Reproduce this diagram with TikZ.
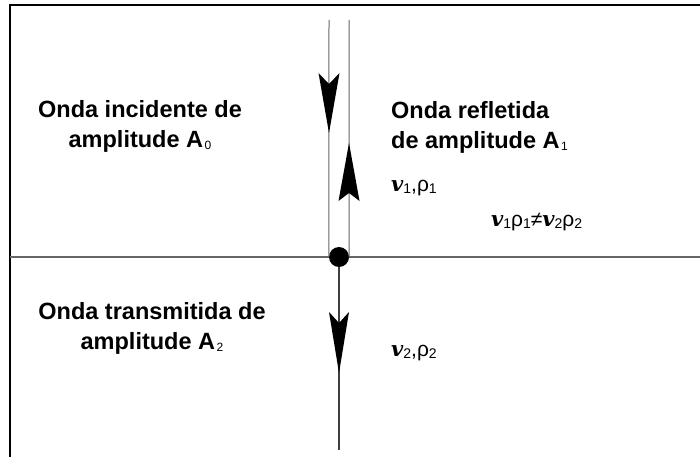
\documentclass[tikz,border=0pt]{standalone}
\usepackage{fontspec}
\setmainfont{Liberation Sans}
\newfontfamily\vfont{DejaVu Serif}
\usetikzlibrary{calc}
\newcommand{\velo}{{\vfont\bfseries\itshape v}}
\newcommand{\sbs}[1]{\kern1.5pt\raisebox{-0.12em}{\fontsize{12}{12}\selectfont\mdseries #1}}
\newcommand{\sbm}[1]{\raisebox{-0.1em}{\fontsize{14}{14}\selectfont\mdseries #1}}
\begin{document}
\begin{tikzpicture}[x=1pt,y=-1pt,
  frame/.style={line width=2pt, black},
  wline/.style={line width=1pt, black!60},
  iface/.style={line width=1.1pt, black!60},
  tline/.style={line width=1.5pt, black!75},
  head/.style={fill=black},
  lbl/.style={font=\fontsize{23.5}{30}\selectfont\bfseries, inner sep=0pt},
  sym/.style={font=\fontsize{21}{24}\selectfont, inner sep=0pt, anchor=west}
]
\useasboundingbox (0,0) rectangle (700,457);
% frame
\coordinate (fTR) at (700,5);
\coordinate (fTL) at (10,5);
\coordinate (fBL) at (10,457);
\draw[frame] (fTR) -- (fTL) -- (fBL);
% interface
\coordinate (iL) at (10,257);
\coordinate (iR) at (700,257);
\draw[iface] (iL) -- (iR);
% junction dot
\node[circle, fill=black, minimum size=20pt, inner sep=0pt] (dot) at (339,257) {};
\coordinate (inTop) at (329,20);
\coordinate (refTop) at (349,20);
\coordinate (trBot) at (339,450);
\draw[wline] (inTop) -- (dot.west);
\draw[wline] (refTop) -- (dot.east);
\draw[tline] (dot.south) -- (trBot);
% arrowheads
\fill[head] (329,133) -- (318.5,73) -- (329,84) -- (339.5,73) -- cycle;
\fill[head] (349,143) -- (338.5,201) -- (349,193) -- (359.5,201) -- cycle;
\fill[head] (339,373) -- (329,312) -- (339,323) -- (349,312) -- cycle;
% labels
\node[lbl, align=center] (inc) at (140,126) {Onda incidente de\\amplitude A\sbs{0}};
\node[lbl, align=left, anchor=west] (ref) at (391,127) {Onda refletida\\de amplitude A\sbs{1}};
\node[lbl, align=center] (tra) at (152,328) {Onda transmitida de\\amplitude A\sbs{2}};
\node[sym] (m1) at (391,188) {\velo\sbm{1},ρ\sbm{1}};
\node[sym] (imp) at (491,222) {\velo\sbm{1}ρ\sbm{1}≠\velo\sbm{2}ρ\sbm{2}};
\node[sym] (m2) at (391,353) {\velo\sbm{2},ρ\sbm{2}};
\end{tikzpicture}
\end{document}
